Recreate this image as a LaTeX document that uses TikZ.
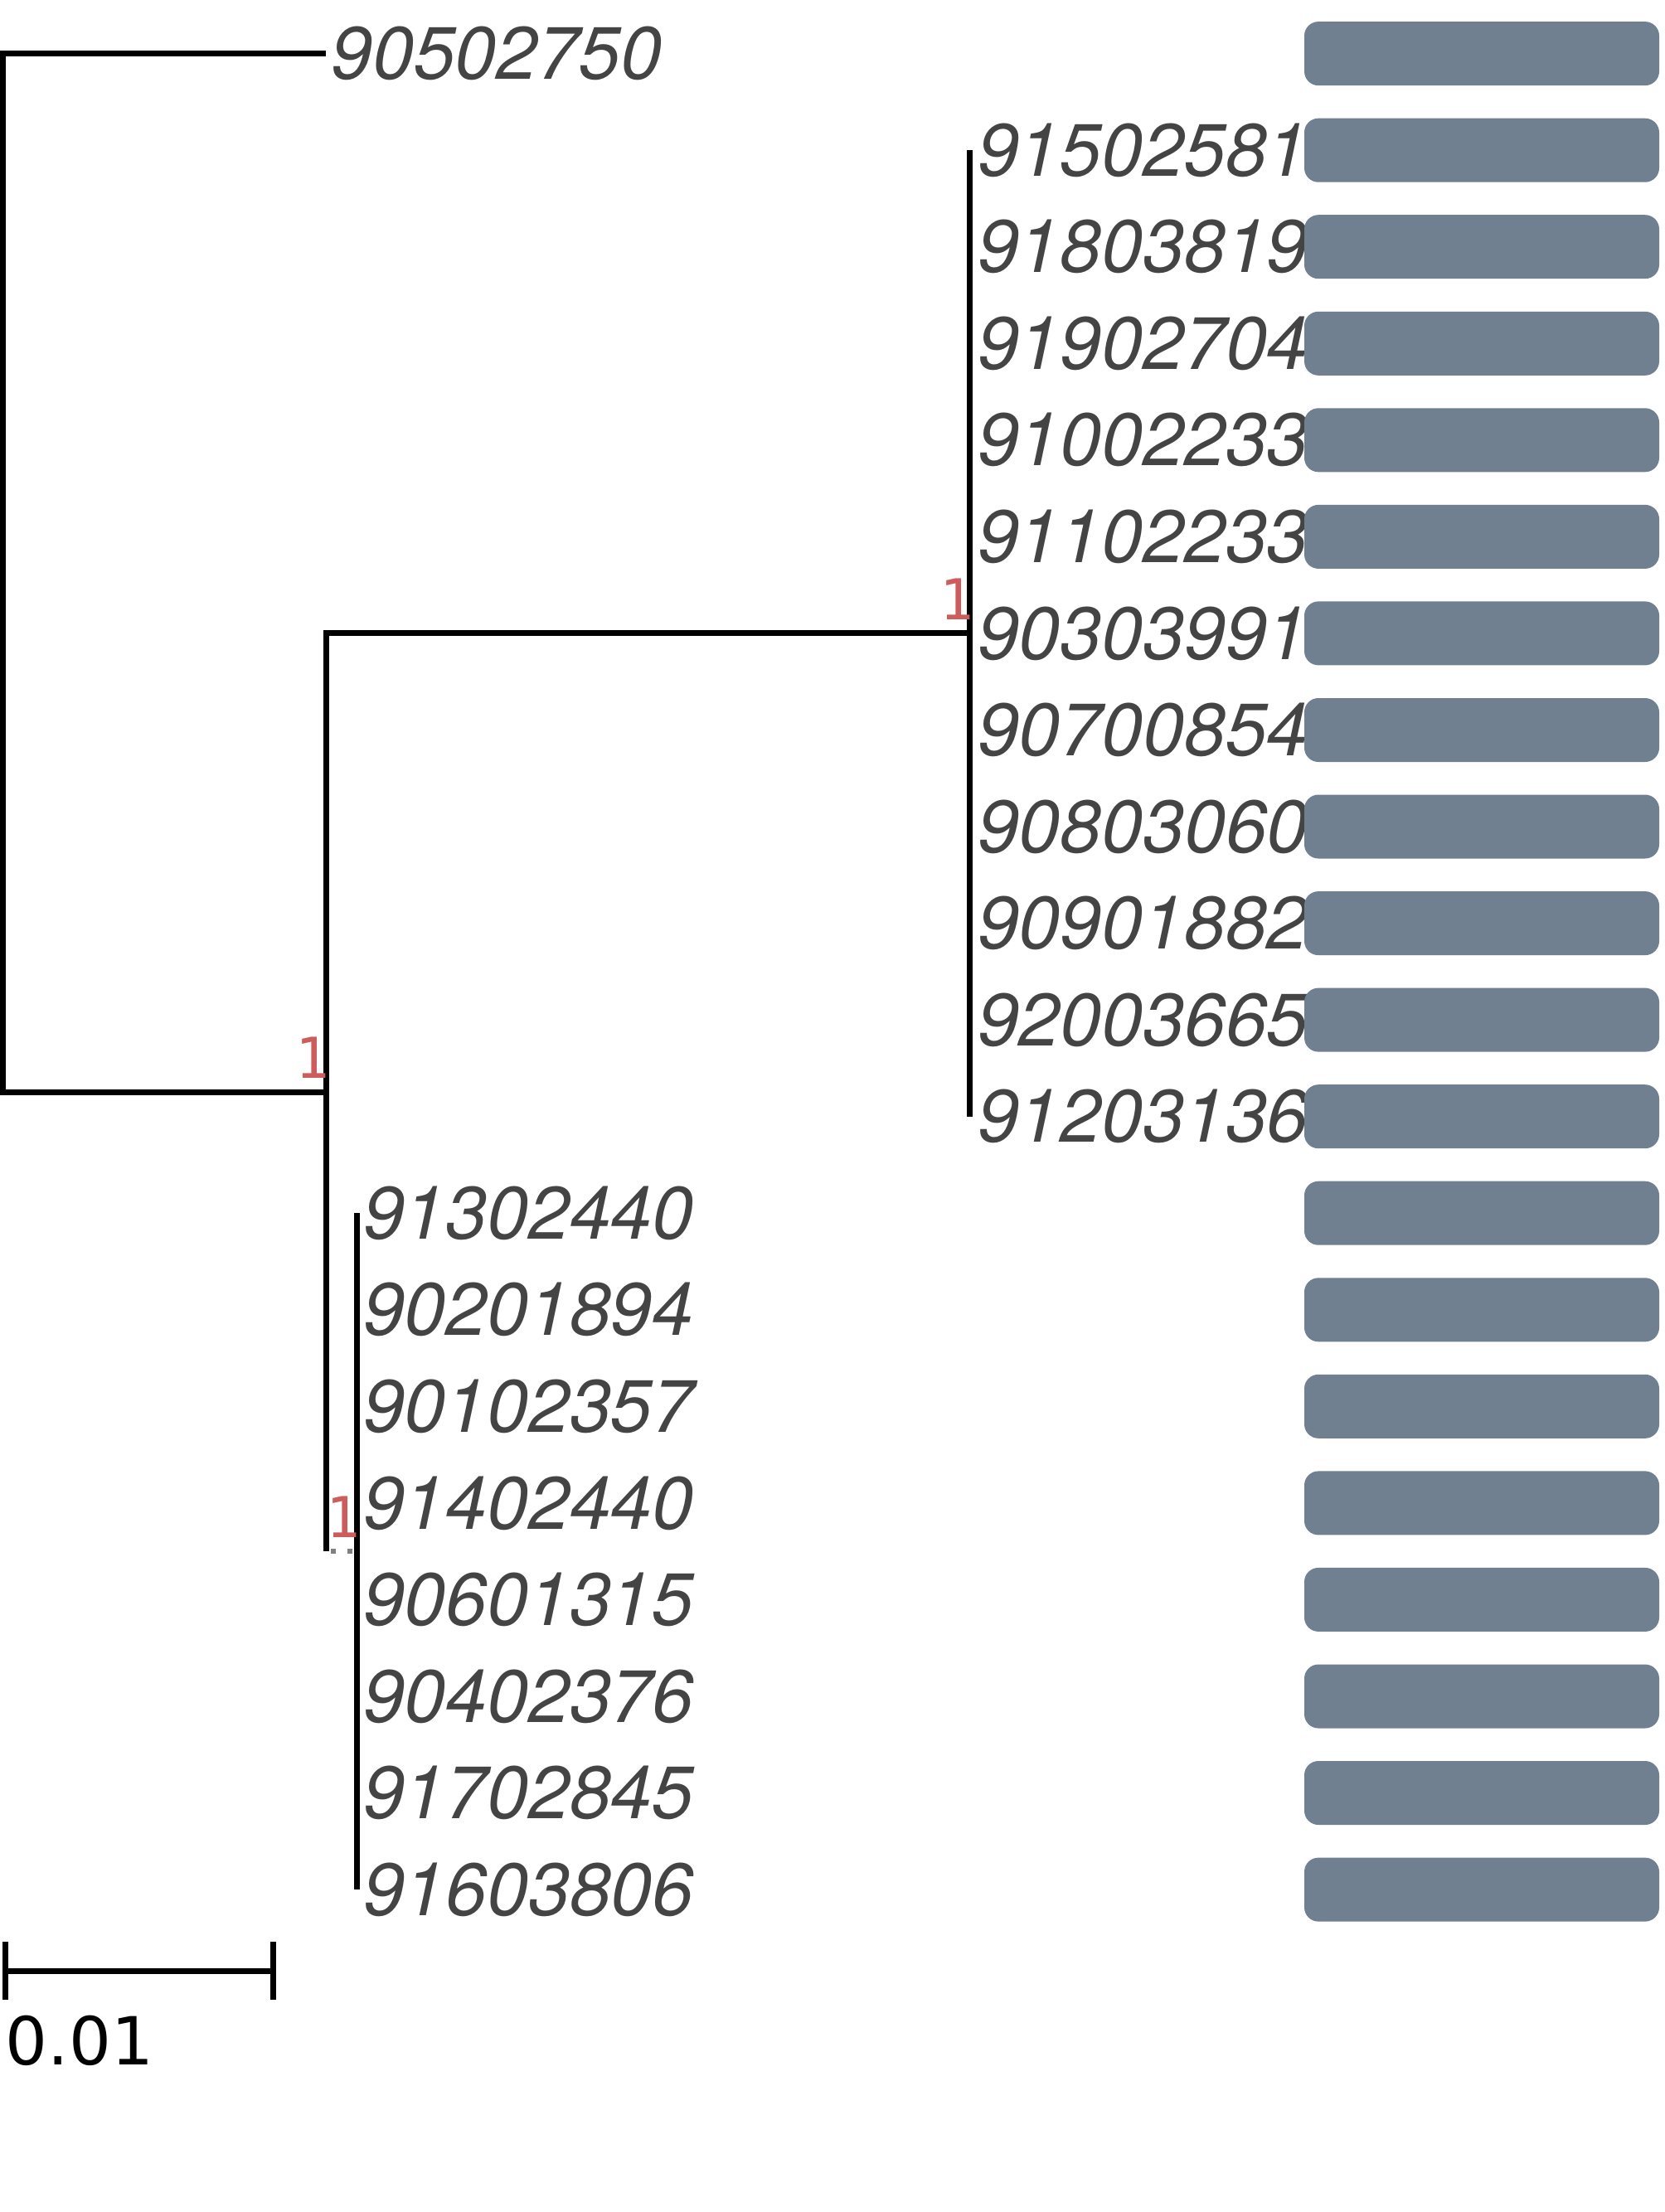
\documentclass[tikz,border=0pt]{standalone}
\usepackage{fontspec}
\usetikzlibrary{positioning}

\newfontfamily\leaffont{TeX Gyre Heros}
\newfontfamily\barfont{DejaVu Sans}
\newfontfamily\supfont{DejaVu Sans Mono}

\definecolor{leafgray}{HTML}{444444}
\definecolor{barslate}{HTML}{708090}
\definecolor{supred}{HTML}{CD5C5C}

\begin{document}
\begin{tikzpicture}[x=2.5pt,y=-2.5pt]
		\tikzstyle {branch line} = [line width=1.75pt]
		\tikzstyle {zero branch} = [line width=1.5pt, gray, dash pattern=on 1.5pt off 3.5pt, dash phase=3.5pt]
		\tikzstyle {leaf label} = [inner sep=0pt, text=leafgray, font=\leaffont\itshape\fontsize{22.4}{26}\selectfont]
		\tikzstyle {support} = [inner sep=0pt, anchor=south east, text=supred, font=\supfont\fontsize{17}{19}\selectfont]
		\tikzstyle {bar} = [fill=barslate, rounded corners=4.25pt]

		\useasboundingbox (0,0) rectangle (200.7,266.8);

		% inner nodes
		\coordinate (root) at (0.35,131.75);
		\coordinate (nA) at (39.3,131.75);
		\coordinate (c1) at (116.95,76.39);
		\coordinate (c2) at (43.0,187.12);

		% tips
		\coordinate (t0) at (39.3,6.46);
		\coordinate (t1) at (116.95,18.12);
		\coordinate (t2) at (116.95,29.77);
		\coordinate (t3) at (116.95,41.43);
		\coordinate (t4) at (116.95,53.08);
		\coordinate (t5) at (116.95,64.74);
		\coordinate (t6) at (116.95,76.39);
		\coordinate (t7) at (116.95,88.05);
		\coordinate (t8) at (116.95,99.70);
		\coordinate (t9) at (116.95,111.36);
		\coordinate (t10) at (116.95,123.01);
		\coordinate (t11) at (116.95,134.67);
		\coordinate (t12) at (43.0,146.32);
		\coordinate (t13) at (43.0,157.98);
		\coordinate (t14) at (43.0,169.63);
		\coordinate (t15) at (43.0,181.29);
		\coordinate (t16) at (43.0,192.94);
		\coordinate (t17) at (43.0,204.60);
		\coordinate (t18) at (43.0,216.25);
		\coordinate (t19) at (43.0,227.91);

		% branches
		\draw[branch line] (t0) -| (root) -- (nA);
		\draw[branch line] (c1) -| (nA) -- (nA |- c2);
		\draw[zero branch] (nA |- c2) -- (c2);
		\draw[branch line] (t1) -- (t11);
		\draw[branch line] (t12) -- (t19);

		% support values
		\node[support] (sA) at ([xshift=1.4pt,yshift=4pt]nA) {1};
		\node[support] (s1) at ([xshift=1.4pt,yshift=4pt]c1) {1};
		\node[support] (s2) at ([xshift=1.4pt,yshift=4pt]c2) {1};

		% leaf names
		\node[leaf label, right=1.4pt of t0] (l0) {90502750};
		\node[leaf label, right=2.2pt of t1] (l1) {91502581};
		\node[leaf label, right=2.2pt of t2] (l2) {91803819};
		\node[leaf label, right=2.2pt of t3] (l3) {91902704};
		\node[leaf label, right=2.2pt of t4] (l4) {91002233};
		\node[leaf label, right=2.2pt of t5] (l5) {91102233};
		\node[leaf label, right=2.2pt of t6] (l6) {90303991};
		\node[leaf label, right=2.2pt of t7] (l7) {90700854};
		\node[leaf label, right=2.2pt of t8] (l8) {90803060};
		\node[leaf label, right=2.2pt of t9] (l9) {90901882};
		\node[leaf label, right=2.2pt of t10] (l10) {92003665};
		\node[leaf label, right=2.2pt of t11] (l11) {91203136};
		\node[leaf label, right=1.8pt of t12] (l12) {91302440};
		\node[leaf label, right=1.8pt of t13] (l13) {90201894};
		\node[leaf label, right=1.8pt of t14] (l14) {90102357};
		\node[leaf label, right=1.8pt of t15] (l15) {91402440};
		\node[leaf label, right=1.8pt of t16] (l16) {90601315};
		\node[leaf label, right=1.8pt of t17] (l17) {90402376};
		\node[leaf label, right=1.8pt of t18] (l18) {91702845};
		\node[leaf label, right=1.8pt of t19] (l19) {91603806};

		% bars
		\fill[bar] (157.3,2.61) rectangle (200.1,10.31);
		\fill[bar] (157.3,14.27) rectangle (200.1,21.97);
		\fill[bar] (157.3,25.92) rectangle (200.1,33.62);
		\fill[bar] (157.3,37.58) rectangle (200.1,45.28);
		\fill[bar] (157.3,49.23) rectangle (200.1,56.93);
		\fill[bar] (157.3,60.89) rectangle (200.1,68.59);
		\fill[bar] (157.3,72.54) rectangle (200.1,80.24);
		\fill[bar] (157.3,84.20) rectangle (200.1,91.90);
		\fill[bar] (157.3,95.85) rectangle (200.1,103.55);
		\fill[bar] (157.3,107.51) rectangle (200.1,115.21);
		\fill[bar] (157.3,119.16) rectangle (200.1,126.86);
		\fill[bar] (157.3,130.82) rectangle (200.1,138.52);
		\fill[bar] (157.3,142.47) rectangle (200.1,150.17);
		\fill[bar] (157.3,154.13) rectangle (200.1,161.83);
		\fill[bar] (157.3,165.78) rectangle (200.1,173.48);
		\fill[bar] (157.3,177.44) rectangle (200.1,185.14);
		\fill[bar] (157.3,189.09) rectangle (200.1,196.79);
		\fill[bar] (157.3,200.75) rectangle (200.1,208.45);
		\fill[bar] (157.3,212.40) rectangle (200.1,220.10);
		\fill[bar] (157.3,224.06) rectangle (200.1,231.76);

		% scale bar
		\coordinate (sb0) at (0.6,237.7);
		\coordinate (sb1) at (32.9,237.7);
		\draw[branch line] (sb0) -- (sb1);
		\draw[branch line] ([yshift=8.75pt]sb0) -- ([yshift=-8.75pt]sb0);
		\draw[branch line] ([yshift=8.75pt]sb1) -- ([yshift=-8.75pt]sb1);
		\node[inner sep=0pt, anchor=north west, font=\barfont\fontsize{20}{23}\selectfont] (sbl) at (0.6,243.0) {0.01};
	\end{tikzpicture}
\end{document}
